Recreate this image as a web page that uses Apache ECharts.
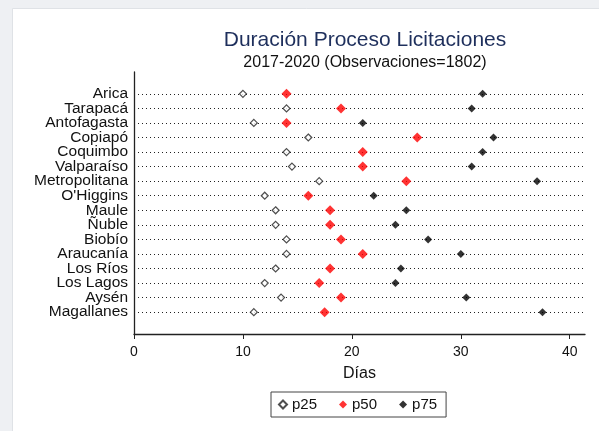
<!DOCTYPE html>
<html>
<head>
<meta charset="utf-8">
<script src="https://cdn.jsdelivr.net/npm/echarts@6/dist/echarts.min.js"></script>
<style>
  html, body { margin: 0; padding: 0; background: #eef0f3; }
  #chart { width: 599px; height: 431px; }
</style>
</head>
<body>
<div id="chart"></div>
<script>
// regiones (de arriba hacia abajo)
var regiones = ['Arica', 'Tarapacá', 'Antofagasta', 'Copiapó', 'Coquimbo', 'Valparaíso',
  'Metropolitana', "O'Higgins", 'Maule', 'Ñuble', 'Biobío', 'Araucanía', 'Los Ríos',
  'Los Lagos', 'Aysén', 'Magallanes'];

// percentiles de duración en días
var p25 = [10, 14, 11, 16, 14, 14.5, 17, 12, 13, 13, 14, 14, 13, 12, 13.5, 11];
var p50 = [14, 19, 14, 26, 21, 21, 25, 16, 18, 18, 19, 21, 18, 17, 19, 17.5];
var p75 = [32, 31, 21, 33, 32, 31, 37, 22, 25, 24, 27, 30, 24.5, 24, 30.5, 37.5];

var xTicks = [0, 10, 20, 30, 40];

function puntos(arr) {
  return arr.map(function (v, i) { return [v, i]; });
}

var chart = echarts.init(document.getElementById('chart'));

// el eje y va de -1.5 a 16.5 -> 18 unidades sobre 262 px
var paso = 262 / 18;

var option = {
  backgroundColor: '#eef0f3',
  textStyle: { fontFamily: 'Liberation Sans, Arial, sans-serif' },
  graphic: [{
    type: 'rect',
    z: -10,
    shape: { x: 12.5, y: 8.5, width: 600, height: 430 },
    style: { fill: '#fff', stroke: '#dfe2e6', lineWidth: 1 }
  }],
  title: {
    text: 'Duración Proceso Licitaciones',
    subtext: '2017-2020 (Observaciones=1802)',
    left: 360,
    textAlign: 'center',
    top: 25,
    itemGap: 4,
    textStyle: { color: '#1e2f5c', fontSize: 21, fontWeight: 'normal' },
    subtextStyle: { color: '#111', fontSize: 16 }
  },
  grid: [
    { left: 134, right: 14, top: 72, bottom: 97 },
    // solo para las etiquetas de regiones
    { left: 134, right: 14, top: 72 + paso, bottom: 97 + paso }
  ],
  legend: {
    bottom: 14,
    left: 271,
    data: ['p25', 'p50', 'p75'],
    icon: 'diamond',
    itemWidth: 8,
    itemHeight: 8,
    itemGap: 22,
    padding: [5, 9, 5, 7],
    borderColor: '#444',
    borderWidth: 1,
    borderRadius: 0,
    textStyle: { fontSize: 15, color: '#111' }
  },
  xAxis: [{
    type: 'value',
    gridIndex: 0,
    min: 0,
    max: 41.4,
    name: 'Días',
    nameLocation: 'middle',
    nameGap: 32,
    nameTextStyle: { fontSize: 16, color: '#111' },
    axisLine: { show: true, onZero: false, lineStyle: { color: '#222', width: 1.3 } },
    axisTick: { show: true, length: 5, customValues: xTicks, lineStyle: { color: '#222' } },
    axisLabel: { customValues: xTicks, fontSize: 14, color: '#111', margin: 11 },
    splitLine: { show: false }
  }, {
    type: 'value',
    gridIndex: 1,
    show: false
  }],
  yAxis: [{
    type: 'value',
    gridIndex: 0,
    inverse: true,
    min: -1.5,
    max: 16.5,
    axisLine: { show: true, onZero: false, lineStyle: { color: '#222', width: 1.3 } },
    axisTick: { show: false },
    axisLabel: { show: false },
    splitLine: { show: false }
  }, {
    type: 'category',
    gridIndex: 1,
    inverse: true,
    data: regiones,
    axisLine: { show: false },
    axisTick: { show: false },
    axisLabel: { interval: 0, fontSize: 15.5, color: '#111', margin: 6 },
    splitLine: { show: false }
  }],
  series: [
    {
      name: 'p25',
      type: 'scatter',
      symbol: 'diamond',
      symbolSize: 7,
      itemStyle: { color: '#fff', borderColor: '#222', borderWidth: 1.2 },
      data: puntos(p25),
      z: 3,
      markLine: {
        silent: true,
        symbol: 'none',
        label: { show: false },
        lineStyle: { color: '#222', width: 1, type: [1, 3] },
        data: regiones.map(function (r, i) { return { yAxis: i }; }),
        z: 1
      }
    },
    {
      name: 'p50',
      type: 'scatter',
      symbol: 'diamond',
      symbolSize: 10,
      itemStyle: { color: '#ff0000' },
      data: puntos(p50),
      z: 4
    },
    {
      name: 'p75',
      type: 'scatter',
      symbol: 'diamond',
      symbolSize: 8,
      itemStyle: { color: '#000' },
      data: puntos(p75),
      z: 4
    }
  ]
};

chart.setOption(option);
</script>
</body>
</html>
